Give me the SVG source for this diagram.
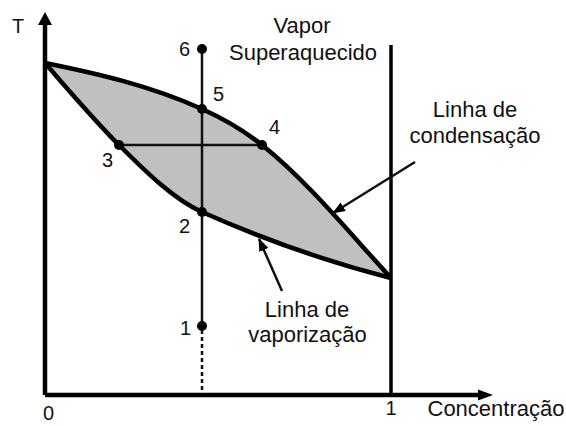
<svg xmlns="http://www.w3.org/2000/svg" width="566" height="426" viewBox="0 0 566 426">
<style>
text{font-family:"Liberation Sans",Arial,sans-serif;fill:#111;}
.lbl{font-size:22px;text-anchor:middle;}
.num{font-size:20px;text-anchor:middle;}
.axis{stroke:#000;stroke-width:4.5;fill:none;}
.curve{stroke:#000;stroke-width:4.5;fill:none;stroke-linejoin:round;}
.thin{stroke:#111;stroke-width:2.5;fill:none;}
.pt{fill:#000;}
</style>
<defs>
<marker id="ah" markerWidth="13" markerHeight="10" refX="12" refY="5" orient="auto" markerUnits="userSpaceOnUse">
<path d="M0,0 L13,5 L0,10 Z" fill="#000"/>
</marker>
</defs>
<rect width="566" height="426" fill="#fff"/>
<g id="region">
<path d="M45,63 C97,73.5 150,85.6 202,109 C222,118 242,129 262,145 C305,179 348,231 391,278 C328,262 265,240 202,212 C174,199.4 147,173 119,145 C94,120 70,91.7 45,63 Z" fill="#c0c0c0"/>
</g>
<g id="axes">
<line class="axis" x1="45" y1="395" x2="45" y2="24"/>
<path d="M38,25 L45,12 L52,25 Z" fill="#000"/>
<line class="axis" x1="45" y1="395" x2="479" y2="395"/>
<path d="M478,389.5 L493,395 L478,400.5 Z" fill="#000"/>
<line x1="391" y1="45" x2="391" y2="395" stroke="#000" stroke-width="3.5"/>
</g>
<g id="curves">
<path id="condensacao" class="curve" d="M45,63 C97,73.5 150,85.6 202,109 C222,118 242,129 262,145 C305,179 348,231 391,278"/>
<path id="vaporizacao" class="curve" d="M45,63 C70,91.7 94,120 119,145 C147,173 174,199.4 202,212 C265,240 328,262 391,278"/>
</g>
<g id="connectors">
<line class="thin" x1="202" y1="49" x2="202" y2="326"/>
<line class="thin" x1="202" y1="330" x2="202" y2="394" stroke-dasharray="4,3"/>
<line class="thin" x1="119" y1="145" x2="262" y2="145"/>
<line x1="415" y1="162" x2="333" y2="213" stroke="#111" stroke-width="2.5" marker-end="url(#ah)"/>
<line x1="282" y1="291" x2="259" y2="239" stroke="#111" stroke-width="2.5" marker-end="url(#ah)"/>
</g>
<g id="p6"><circle class="pt" cx="202" cy="49" r="5"/><text class="num" x="184.5" y="56">6</text></g>
<g id="p5"><circle class="pt" cx="202" cy="109" r="5"/><text class="num" x="218.5" y="101">5</text></g>
<g id="p4"><circle class="pt" cx="262" cy="145" r="5"/><text class="num" x="274.5" y="134">4</text></g>
<g id="p3"><circle class="pt" cx="119" cy="145" r="5"/><text class="num" x="107.5" y="167">3</text></g>
<g id="p2"><circle class="pt" cx="202" cy="212" r="5"/><text class="num" x="184.5" y="233">2</text></g>
<g id="p1"><circle class="pt" cx="202" cy="326" r="5"/><text class="num" x="185.5" y="335">1</text></g>
<g id="labels">
<text class="num" x="18" y="33">T</text>
<text class="num" x="48.5" y="420">0</text>
<text class="num" x="391" y="415">1</text>
<text class="lbl" x="496" y="416">Concentração</text>
<text class="lbl" x="302" y="33">Vapor</text>
<text class="lbl" x="303" y="60">Superaquecido</text>
<text class="lbl" x="475" y="117">Linha de</text>
<text class="lbl" x="475" y="143">condensação</text>
<text class="lbl" x="307" y="317">Linha de</text>
<text class="lbl" x="307.5" y="342">vaporização</text>
</g>
</svg>
